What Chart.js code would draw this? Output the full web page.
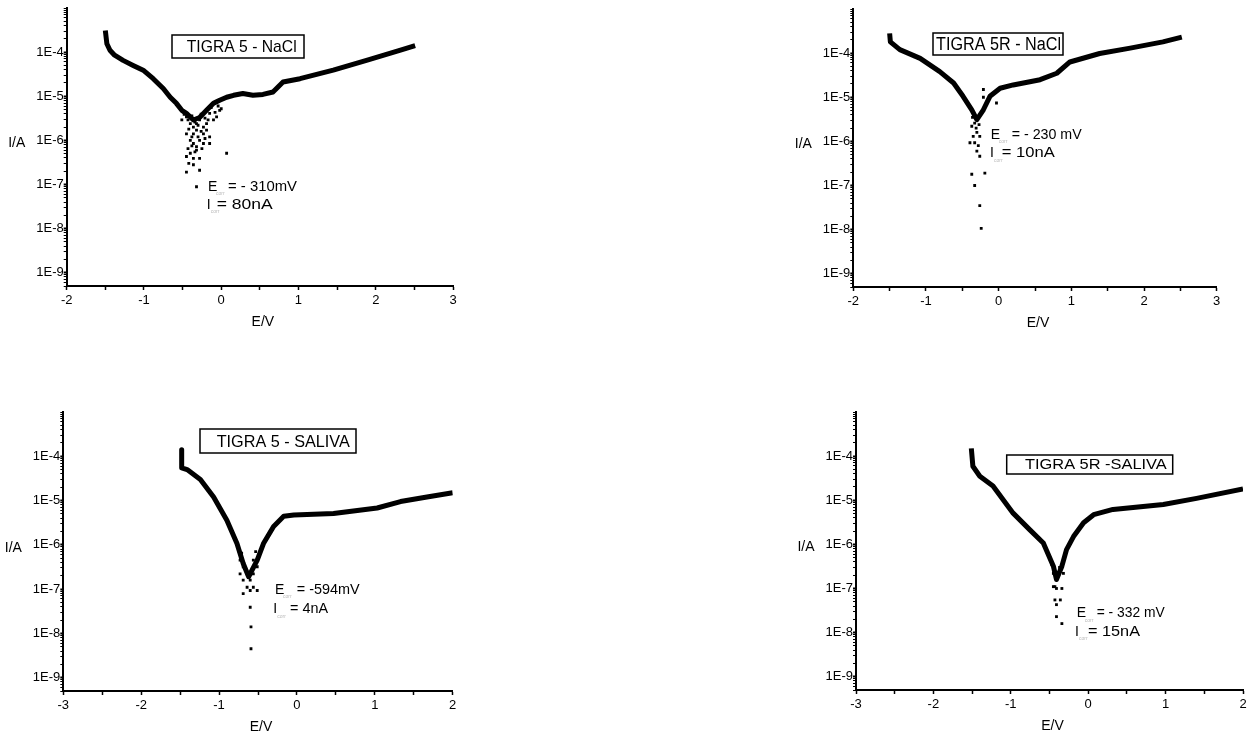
<!DOCTYPE html>
<html>
<head>
<meta charset="utf-8">
<script src="https://cdn.jsdelivr.net/npm/chart.js@4.4.1/dist/chart.umd.min.js"></script>
<style>
    html, body { margin: 0; padding: 0; background: #fff; }
    body { width: 1251px; height: 737px; position: relative; overflow: hidden; }
    .panel { position: absolute; }
    .panel canvas { display: block; }
</style>
</head>
<body>
<div class="panel" id="p1"><canvas id="c1"></canvas></div>
<div class="panel" id="p2"><canvas id="c2"></canvas></div>
<div class="panel" id="p3"><canvas id="c3"></canvas></div>
<div class="panel" id="p4"><canvas id="c4"></canvas></div>
<script>
// Tick values / labels
const yTickValues = [1e-9, 1e-8, 1e-7, 1e-6, 1e-5, 1e-4];
const yTickLabels = ['1E-9', '1E-8', '1E-7', '1E-6', '1E-5', '1E-4'];
const xTicksNaCl = [-2, -1.5, -1, -0.5, 0, 0.5, 1, 1.5, 2, 2.5, 3];
const xLabelsNaCl = ['-2', '', '-1', '', '0', '', '1', '', '2', '', '3'];
const xTicksSaliva = [-3, -2.5, -2, -1.5, -1, -0.5, 0, 0.5, 1, 1.5, 2];
const xLabelsSaliva = ['-3', '', '-2', '', '-1', '', '0', '', '1', '', '2'];

// TIGRA 5 - NaCl
const t5NaclE = [-1.50, -1.48, -1.44, -1.38, -1.27, -1.14, -1.01, -0.88, -0.75, -0.66, -0.58, -0.51, -0.45, -0.36, -0.28, -0.19, -0.10, -0.02, 0.07, 0.16, 0.28, 0.41, 0.54, 0.67, 0.80, 1.02, 1.45, 1.88, 2.31, 2.51];
const t5NaclI = [3.1e-4, 1.55e-4, 1.1e-4, 8.5e-5, 6.5e-5, 5.0e-5, 3.9e-5, 2.5e-5, 1.5e-5, 9.5e-6, 6.9e-6, 4.8e-6, 4.1e-6, 2.9e-6, 3.3e-6, 4.8e-6, 6.9e-6, 8.1e-6, 9.5e-6, 1.05e-5, 1.15e-5, 1.05e-5, 1.1e-5, 1.25e-5, 2.1e-5, 2.5e-5, 3.9e-5, 6.5e-5, 1.1e-4, 1.4e-4];
const t5NaclDotE = [-0.51, -0.45, -0.40, -0.36, -0.32, -0.28, -0.23, -0.19, -0.45, -0.40, -0.36, -0.32, -0.28, -0.23, -0.15, -0.40, -0.45, -0.32, -0.28, -0.45, -0.28, 0.07, -0.10, -0.06, -0.02, -0.15, -0.51, -0.36, -0.23, -0.19, -0.40, -0.32, -0.15, -0.36, -0.32,
    -0.48, -0.43, -0.38, -0.34, -0.30, -0.26, -0.21, -0.17, -0.13, -0.08, -0.04, 0.00, -0.42, -0.38, -0.30, -0.26, -0.21, -0.43, -0.38, -0.34, -0.25, -0.42, -0.36];
const t5NaclDotI = [4.8e-6, 3.4e-6, 2.4e-6, 2.0e-6, 1.7e-6, 2.9e-6, 2.0e-6, 2.4e-6, 1.4e-6, 1.0e-6, 8.5e-7, 7.2e-7, 1.0e-6, 8.5e-7, 8.5e-7, 5.1e-7, 4.3e-7, 6.0e-7, 3.9e-7, 1.9e-7, 2.1e-7, 5.1e-7, 2.9e-6, 3.4e-6, 4.8e-6, 4.1e-6, 2.9e-6, 1.4e-6, 1.4e-6, 1.7e-6, 3.4e-6, 2.4e-6, 1.2e-6, 3.9e-7, 8.9e-8,
    3.9e-6, 2.9e-6, 3.6e-6, 2.6e-6, 2.2e-6, 3.9e-6, 3.2e-6, 2.9e-6, 5.5e-6, 4.3e-6, 6.0e-6, 5.2e-6, 1.8e-6, 1.2e-6, 1.2e-6, 1.6e-6, 1.1e-6, 6.5e-7, 7.5e-7, 5.5e-7, 6.5e-7, 3.0e-7, 2.8e-7];

// TIGRA 5R - NaCl
const t5rNaclE = [-1.50, -1.49, -1.36, -1.08, -0.81, -0.62, -0.49, -0.37, -0.30, -0.21, -0.12, 0.02, 0.20, 0.57, 0.80, 0.98, 1.39, 1.81, 2.26, 2.52];
const t5rNaclI = [2.8e-4, 1.8e-4, 1.2e-4, 7.6e-5, 3.8e-5, 2.1e-5, 1.05e-5, 5.2e-6, 3.1e-6, 5.2e-6, 1.05e-5, 1.6e-5, 1.9e-5, 2.5e-5, 3.5e-5, 6.3e-5, 9.8e-5, 1.3e-4, 1.8e-4, 2.3e-4];
const t5rNaclDotE = [-0.37, -0.35, -0.395, -0.33, -0.30, -0.26, -0.37, -0.33, -0.26, -0.24, -0.19, -0.03, -0.21, -0.21, -0.30, -0.26, -0.33, -0.28, -0.36, -0.31, -0.27];
const t5rNaclDotI = [2.2e-6, 1.3e-6, 9.3e-7, 9.3e-7, 6.0e-7, 4.6e-7, 1.8e-7, 1.0e-7, 3.5e-8, 1.07e-8, 1.9e-7, 7.4e-6, 1.5e-5, 1.0e-5, 1.6e-6, 1.3e-6, 2.6e-6, 8.0e-7, 3.5e-6, 2.0e-6, 2.4e-6];

// TIGRA 5 - SALIVA
const t5SalE = [-1.48, -1.48, -1.41, -1.24, -1.07, -0.90, -0.77, -0.69, -0.62, -0.51, -0.43, -0.30, -0.17, -0.04, 0.47, 1.03, 1.33, 1.67, 2.00];
const t5SalI = [1.4e-4, 5.5e-5, 5.0e-5, 3.0e-5, 1.2e-5, 3.6e-6, 1.07e-6, 3.8e-7, 1.9e-7, 4.5e-7, 1.07e-6, 2.6e-6, 4.4e-6, 4.7e-6, 5.1e-6, 6.8e-6, 9.5e-6, 1.2e-5, 1.5e-5];
const t5SalDotE = [-0.73, -0.69, -0.64, -0.60, -0.56, -0.51, -0.69, -0.64, -0.60, -0.69, -0.56, -0.51, -0.60, -0.59, -0.59, -0.73, -0.56, -0.66, -0.58, -0.71, -0.53];
const t5SalDotI = [4.5e-7, 3.2e-7, 2.2e-7, 1.6e-7, 2.2e-7, 3.2e-7, 1.6e-7, 1.1e-7, 9.3e-8, 7.9e-8, 1.1e-7, 9.3e-8, 3.9e-8, 1.4e-8, 4.5e-9, 2.2e-7, 4.5e-7, 2.8e-7, 2.6e-7, 6.5e-7, 7.0e-7];

// TIGRA 5R - SALIVA
const t5rSalE = [-1.51, -1.49, -1.40, -1.23, -0.97, -0.75, -0.58, -0.45, -0.41, -0.34, -0.28, -0.19, -0.06, 0.07, 0.32, 0.97, 1.40, 2.00];
const t5rSalI = [1.5e-4, 5.9e-5, 3.5e-5, 2.1e-5, 5.1e-6, 2.1e-6, 1.07e-6, 3.2e-7, 1.6e-7, 3.2e-7, 7.6e-7, 1.5e-6, 3.1e-6, 4.7e-6, 6.2e-6, 8.0e-6, 1.1e-5, 1.8e-5];
const t5rSalDotE = [-0.45, -0.43, -0.41, -0.39, -0.34, -0.43, -0.41, -0.41, -0.34, -0.32, -0.45, -0.36, -0.47, -0.37];
const t5rSalDotI = [2.2e-7, 1.1e-7, 1.0e-7, 2.2e-7, 1.0e-7, 5.5e-8, 4.3e-8, 2.3e-8, 1.6e-8, 2.2e-7, 1.1e-7, 5.5e-8, 3.5e-7, 3.0e-7];

const FONT = '"Liberation Sans", Arial, sans-serif';

const toPoints = (xs, ys) => xs.map((x, i) => ({ x: x, y: ys[i] }));

// minor + major log ticks between 5E-10 and 1E-3
function logTicks() {
    const out = [];
    for (let e = -10; e <= -4; e++) {
        for (let m = 1; m <= 9; m++) {
            const v = m * Math.pow(10, e);
            if (v >= 5e-10 * 0.999 && v <= 1e-3 * 1.001) out.push({ value: v });
        }
    }
    out.push({ value: 1e-3 });
    return out;
}

function yLabelFor(v) {
    const idx = yTickValues.findIndex(t => Math.abs(v - t) / t < 1e-6);
    return idx >= 0 ? yTickLabels[idx] : '';
}

function fitText(ctx, text, x, y, width, size) {
    ctx.font = size + 'px ' + FONT;
    const w = ctx.measureText(text).width;
    ctx.save();
    ctx.translate(x, y);
    ctx.scale(width / w, 1);
    ctx.textAlign = 'left';
    ctx.textBaseline = 'middle';
    ctx.fillText(text, 0, 0);
    ctx.restore();
}

const panelDeco = {
    id: 'panelDeco',
    afterDraw(chart, args, opts) {
        const { ctx, chartArea: a, scales } = chart;
        ctx.save();
        ctx.fillStyle = '#000';
        ctx.strokeStyle = '#000';
        ctx.font = '14px ' + FONT;
        ctx.textAlign = 'center';
        ctx.textBaseline = 'middle';
        ctx.fillText('E/V', (a.left + a.right) / 2 + 3, a.bottom + 36);
        ctx.fillText('I/A', a.left - 50, scales.y.getPixelForValue(1e-6) + 3);

        // title box
        const t = opts.title;
        ctx.lineWidth = 1.5;
        ctx.strokeRect(a.left + t.x, a.top + t.y, t.w, t.h);
        fitText(ctx, t.text, a.left + t.tx, a.top + t.y + t.h / 2 + 1, t.tw, t.size);

        // E corr / I corr annotation
        const n = opts.ann;
        ctx.font = '14px ' + FONT;
        ctx.textAlign = 'left';
        ctx.textBaseline = 'middle';
        ctx.fillText('E', a.left + n.ex, a.top + n.ey);
        ctx.fillText('I', a.left + n.ix, a.top + n.iy);
        ctx.fillStyle = '#bbb';
        ctx.font = '5px ' + FONT;
        ctx.fillText('corr', a.left + n.ex + 8, a.top + n.ey + 7);
        ctx.fillText('corr', a.left + n.ix + 4, a.top + n.iy + 7);
        ctx.fillStyle = '#000';
        fitText(ctx, n.eText, a.left + n.ex + n.eOff, a.top + n.ey, n.eW, 14);
        fitText(ctx, n.iText, a.left + n.ix + n.iOff, a.top + n.iy, n.iW, 14);
        ctx.restore();
    }
};

function makeChart(id, rect, area, xMin, xMax, xTicks, xLabels, curve, dots, deco) {
    const canvas = document.getElementById(id);
    const holder = canvas.parentNode;
    holder.style.left = rect.x + 'px';
    holder.style.top = rect.y + 'px';
    canvas.width = rect.w;
    canvas.height = rect.h;

    return new Chart(canvas, {
        type: 'scatter',
        data: {
            datasets: [
                {
                    data: curve,
                    showLine: true,
                    borderColor: '#000',
                    borderWidth: 5,
                    borderJoinStyle: 'round',
                    pointRadius: 0
                },
                {
                    data: dots,
                    pointStyle: 'rect',
                    pointRadius: 2,
                    backgroundColor: '#000',
                    borderWidth: 0
                }
            ]
        },
        options: {
            responsive: false,
            animation: false,
            devicePixelRatio: 1,
            layout: {
                padding: { left: 0, top: area.top - rect.y, right: rect.x + rect.w - area.right, bottom: 0 }
            },
            plugins: {
                legend: { display: false },
                tooltip: { enabled: false },
                panelDeco: deco
            },
            scales: {
                x: {
                    type: 'linear',
                    min: xMin,
                    max: xMax,
                    afterFit: s => { s.height = rect.y + rect.h - area.bottom; },
                    afterBuildTicks: s => { s.ticks = xTicks.map(v => ({ value: v })); },
                    ticks: {
                        autoSkip: false,
                        maxRotation: 0,
                        padding: 3,
                        color: '#000',
                        font: { size: 13, family: FONT },
                        callback: (v, i) => xLabels[i]
                    },
                    grid: { drawOnChartArea: false, tickLength: 4, tickColor: '#000', tickWidth: 1.5 },
                    border: { color: '#000', width: 2 }
                },
                y: {
                    type: 'logarithmic',
                    min: 5e-10,
                    max: 1e-3,
                    afterFit: s => { s.width = area.left - rect.x; },
                    afterBuildTicks: s => { s.ticks = logTicks(); },
                    ticks: {
                        autoSkip: false,
                        padding: 0,
                        color: '#000',
                        font: { size: 13, family: FONT },
                        callback: v => yLabelFor(v)
                    },
                    grid: {
                        drawOnChartArea: false,
                        tickLength: 3,
                        tickColor: '#000',
                        tickWidth: c => (c.tick && yLabelFor(c.tick.value) ? 2 : 1)
                    },
                    border: { color: '#000', width: 2 }
                }
            }
        },
        plugins: [panelDeco]
    });
}

makeChart('c1', { x: 0, y: 0, w: 480, h: 340 }, { left: 66.7, top: 8, right: 453, bottom: 286 },
    -2, 3, xTicksNaCl, xLabelsNaCl,
    toPoints(t5NaclE, t5NaclI), toPoints(t5NaclDotE, t5NaclDotI),
    {
        title: { text: 'TIGRA 5 - NaCl', x: 105.3, y: 27, w: 132, h: 23, tx: 120, tw: 110, size: 17 },
        ann: { ex: 141.3, ey: 178.7, ix: 140, iy: 197, eOff: 20, iOff: 10, eText: '= - 310mV', iText: '= 80nA', eW: 69, iW: 56 }
    });

makeChart('c2', { x: 780, y: 0, w: 471, h: 340 }, { left: 853.3, top: 9, right: 1216.7, bottom: 287 },
    -2, 3, xTicksNaCl, xLabelsNaCl,
    toPoints(t5rNaclE, t5rNaclI), toPoints(t5rNaclDotE, t5rNaclDotI),
    {
        title: { text: 'TIGRA 5R - NaCl', x: 79.7, y: 24, w: 130, h: 22, tx: 82.7, tw: 125, size: 18 },
        ann: { ex: 137.4, ey: 126, ix: 136.7, iy: 144.3, eOff: 21, iOff: 11.7, eText: '= - 230 mV', iText: '= 10nA', eW: 70, iW: 53 }
    });

makeChart('c3', { x: 0, y: 400, w: 480, h: 337 }, { left: 63.3, top: 412, right: 452.7, bottom: 691 },
    -3, 2, xTicksSaliva, xLabelsSaliva,
    toPoints(t5SalE, t5SalI), toPoints(t5SalDotE, t5SalDotI),
    {
        title: { text: 'TIGRA 5 - SALIVA', x: 136.7, y: 17, w: 156, h: 24, tx: 153.4, tw: 133, size: 17 },
        ann: { ex: 211.7, ey: 178, ix: 210, iy: 197.3, eOff: 21.7, iOff: 16.7, eText: '= -594mV', iText: '= 4nA', eW: 63, iW: 38 }
    });

makeChart('c4', { x: 780, y: 400, w: 471, h: 337 }, { left: 856, top: 412, right: 1243, bottom: 690 },
    -3, 2, xTicksSaliva, xLabelsSaliva,
    toPoints(t5rSalE, t5rSalI), toPoints(t5rSalDotE, t5rSalDotI),
    {
        title: { text: 'TIGRA 5R -SALIVA', x: 150.7, y: 43, w: 166, h: 19, tx: 169, tw: 141.7, size: 14 },
        ann: { ex: 220.7, ey: 201.3, ix: 219, iy: 219.7, eOff: 20, iOff: 13, eText: '= - 332 mV', iText: '= 15nA', eW: 68, iW: 52 }
    });
</script>
</body>
</html>
